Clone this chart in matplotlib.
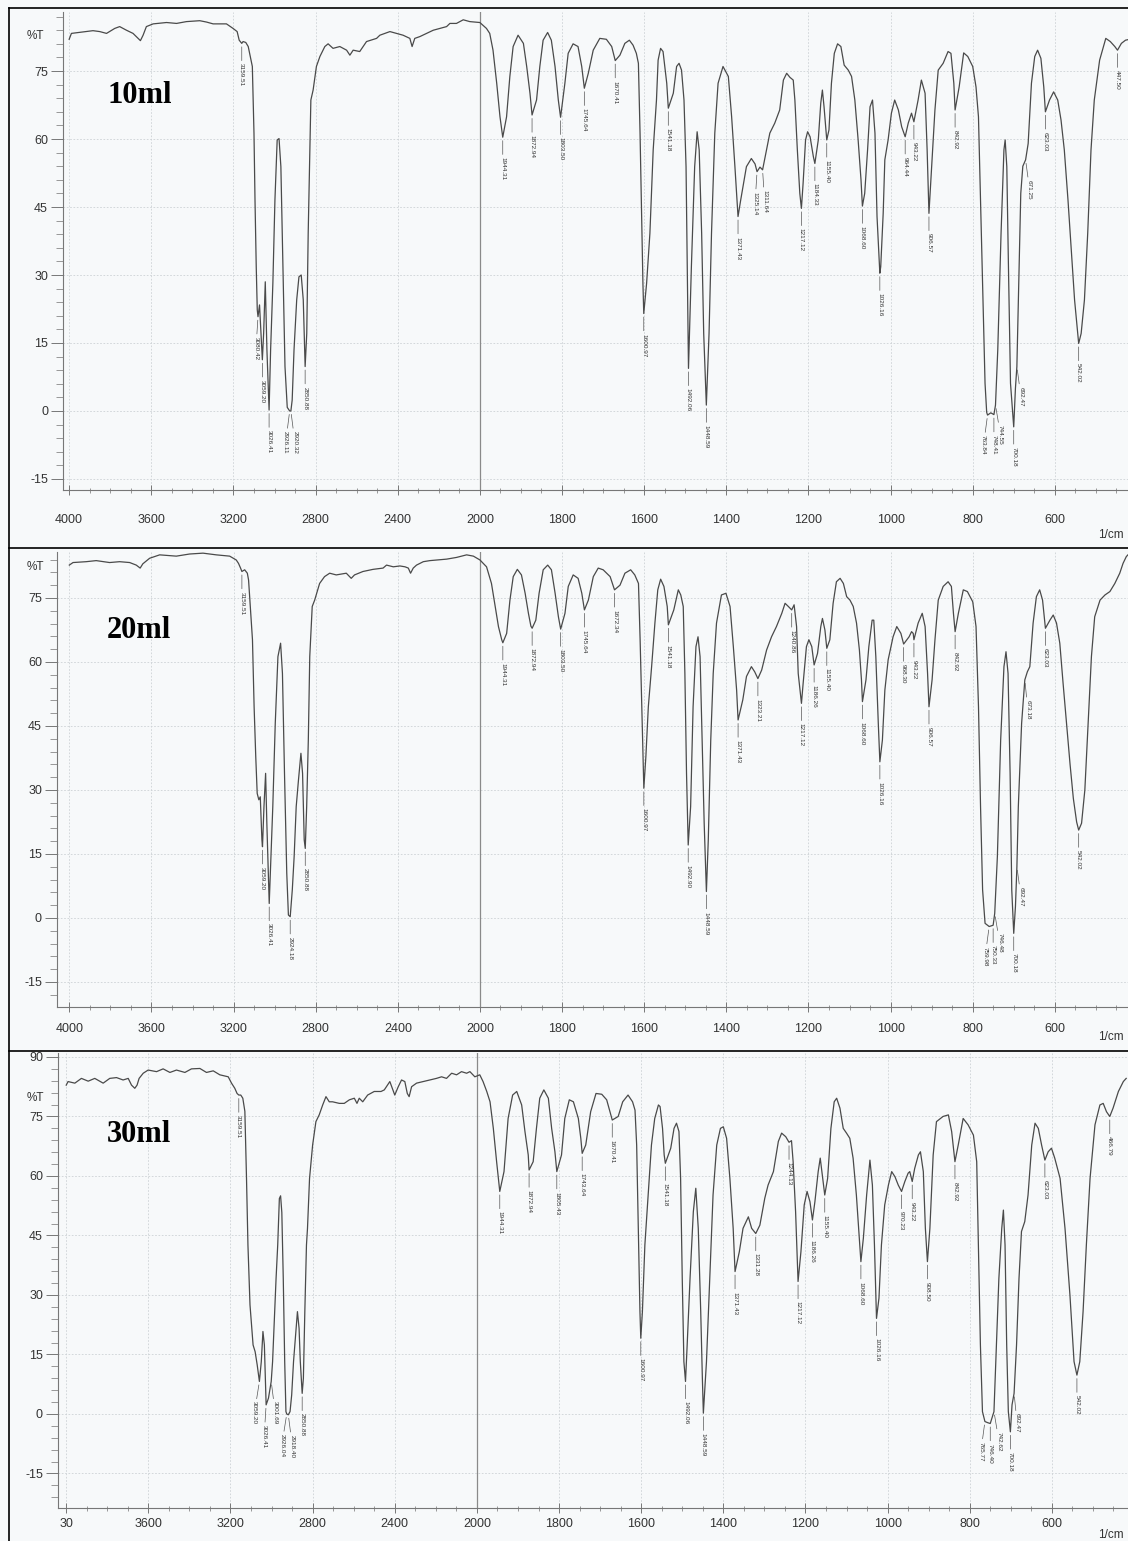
import numpy as np
import matplotlib
matplotlib.use("Agg")
import matplotlib.pyplot as plt
from matplotlib.ticker import FixedLocator, FixedFormatter
from matplotlib.lines import Line2D

# ---------------- data: 10 ml ----------------
wn_10 = [4000, 3989, 3884, 3851, 3818, 3778, 3754, 3721, 3689, 3664, 3653, 3640, 3624, 3591, 3526, 3477,
         3429, 3364, 3331, 3299, 3234, 3202, 3182, 3172, 3159.51, 3153, 3140, 3128, 3108, 3100, 3095, 3089,
         3084, 3080.42, 3073, 3066, 3059.2, 3053, 3045, 3037, 3026.41, 3019, 3008, 2998, 2987, 2978, 2969,
         2959, 2949, 2938, 2926.11, 2920.32, 2914, 2905, 2892, 2881, 2870, 2860, 2850.88, 2843, 2836, 2823,
         2812, 2796, 2779, 2755, 2739, 2715, 2682, 2649, 2633, 2617, 2585, 2552, 2503, 2487, 2438, 2406,
         2374, 2341, 2330, 2317, 2292, 2260, 2227, 2195, 2162, 2146, 2114, 2081, 2049, 2000, 1984, 1976,
         1968, 1959, 1951, 1944.31, 1935, 1927, 1919, 1907, 1894, 1886, 1878, 1872.94, 1862, 1854, 1846,
         1835, 1826, 1817, 1809, 1803.5, 1793, 1785, 1773, 1761, 1752, 1745.64, 1736, 1724, 1708, 1692,
         1679, 1670.41, 1659, 1647, 1636, 1627, 1619, 1614, 1610, 1606, 1603, 1600.97, 1594, 1586, 1578,
         1570, 1566, 1560, 1554, 1545, 1541.18, 1529, 1521, 1515, 1509, 1503, 1498, 1495, 1492.06, 1485,
         1477, 1471, 1466, 1460, 1455, 1448.59, 1442, 1436, 1428, 1420, 1408, 1395, 1387, 1379, 1371.43,
         1365, 1351, 1339, 1330, 1325.14, 1318, 1311.64, 1302, 1294, 1282, 1270, 1261, 1253, 1245, 1237,
         1233, 1227, 1221, 1217.12, 1213, 1207, 1202, 1196, 1188, 1184.33, 1176, 1170, 1166, 1162, 1155.4,
         1150, 1144, 1137, 1129, 1121, 1113, 1103, 1095, 1087, 1079, 1072, 1068.6, 1063, 1056, 1050, 1044,
         1038, 1033, 1026.16, 1024, 1018, 1014, 1006, 998, 990, 981, 973, 964.44, 957, 949, 943.22, 933,
         925, 916, 911, 906.57, 900, 892, 884, 872, 860, 853, 846, 842.92, 833, 822, 812, 800, 792, 786,
         781, 775, 770, 766, 763.84, 756, 748.41, 744.55, 739, 731, 724, 721, 717, 713, 708, 700.18, 696,
         692.47, 688, 683, 678, 671.25, 665, 657, 649, 642, 634, 627, 623.03, 613, 603, 593, 585, 577, 568,
         560, 552, 542.02, 536, 528, 520, 512, 504, 491, 476, 465, 454, 447.5, 438, 428, 418]
T_10 = [82.0, 83.3, 83.9, 83.7, 83.3, 84.4, 84.8, 84.0, 83.3, 82.2, 81.7, 82.9, 84.8, 85.4, 85.7, 85.5,
        85.9, 86.1, 85.8, 85.4, 85.4, 84.4, 83.7, 81.8, 81.1, 81.5, 81.3, 80.4, 76.0, 61.3, 46.5, 31.8,
        22.3, 20.8, 23.4, 17.1, 11.3, 17.1, 28.5, 13.5, 0.2, 13.5, 28.2, 46.5, 59.8, 60.1, 53.9,
        31.8, 9.8, 0.8, 0.0, 0.0, 2.4, 13.5, 24.5, 29.6, 30.0, 24.5, 9.8, 17.1, 39.2, 68.6,
        70.8, 76.0, 78.2, 80.4, 81.0, 80.0, 80.4, 79.6, 78.5, 79.6, 79.3, 81.5, 82.2, 82.9, 83.7, 83.3,
        82.9, 82.2, 80.4, 82.2, 82.6, 83.3, 84.0, 84.4, 84.8, 85.5, 85.5, 86.3, 85.9, 85.7, 84.4, 83.3,
        79.6, 72.3, 64.9, 60.4, 64.9, 73.8, 80.4, 82.9, 81.1, 76.0, 70.1, 65.3, 68.6, 76.0, 81.8,
        83.5, 81.8, 76.0, 68.6, 64.8, 72.3, 78.9, 81.0, 80.4, 76.0, 71.2, 74.5, 79.6, 82.2, 82.0,
        80.4, 77.3, 78.5, 81.1, 81.8, 80.7, 78.9, 76.7, 61.3, 42.9, 28.2, 21.5, 28.2, 39.2, 57.6,
        68.6, 77.4, 80.0, 79.3, 72.3, 66.8, 70.1, 76.0, 76.7, 75.2, 68.6, 53.9, 31.8, 9.4, 31.8,
        53.9, 61.6, 57.6, 39.2, 17.1, 1.3, 17.1, 39.2, 61.3, 72.3, 76.0, 73.8, 64.9, 53.9, 42.9,
        46.5, 53.9, 55.7, 54.5, 52.8, 53.8, 53.2, 57.6, 61.3, 63.5, 66.4, 73.0, 74.5, 73.6, 73.0,
        68.6, 57.6, 48.0, 44.7, 50.2, 59.8, 61.6, 60.5, 56.1, 54.6, 59.8, 67.9, 70.8, 67.1, 59.8,
        62.0, 72.3, 78.9, 81.0, 80.4, 76.3, 75.2, 73.8, 68.6, 59.8, 51.0, 45.2, 48.0, 57.6, 67.1, 68.6,
        61.3, 42.9, 30.4, 31.8, 43.6, 55.4, 59.8, 65.7, 68.6, 66.4, 62.7, 60.5, 63.5, 65.7, 63.8, 68.6,
        73.0, 70.1, 57.6, 43.6, 53.9, 66.4, 75.2, 76.7, 79.3, 78.9, 72.3, 66.4, 71.5, 79.0, 78.2, 76.0, 71.5, 64.9,
        46.5, 24.5, 6.1, -0.3, -0.9, -0.4, -0.8, 1.3, 13.5, 39.2, 57.6, 59.8, 53.9, 31.8, 6.1, -3.5, 5.0,
        9.8, 28.0, 48.0, 54.0, 55.4, 59.0, 72.3, 78.2, 79.6, 77.8, 71.5, 66.0, 68.6, 70.4, 68.6, 64.2, 57.6, 46.5,
        35.5, 24.5, 14.9, 17.1, 24.5, 39.2, 57.6, 68.6, 77.4, 82.2, 81.5, 80.4, 79.6, 81.1, 81.8, 82.0]
lab_10 = ["3159.51", "3080.42", "3059.20", "3026.41", "2926.11", "2920.32", "2850.88", "1944.31",
          "1872.94", "1803.50", "1745.64", "1670.41", "1600.97", "1541.18", "1492.06", "1448.59",
          "1371.43", "1325.14", "1311.64", "1217.12", "1184.33", "1155.40", "1068.60", "1026.16",
          "964.44", "943.22", "906.57", "842.92", "763.84", "748.41", "744.55", "700.18", "692.47",
          "671.25", "623.03", "542.02", "447.50"]
pos_10 = [3159.51, 3080.42, 3059.2, 3026.41, 2926.11, 2920.32, 2850.88, 1944.31, 1872.94, 1803.5,
          1745.64, 1670.41, 1600.97, 1541.18, 1492.06, 1448.59, 1371.43, 1325.14, 1311.64, 1217.12,
          1184.33, 1155.4, 1068.6, 1026.16, 964.44, 943.22, 906.57, 842.92, 763.84, 748.41, 744.55,
          700.18, 692.47, 671.25, 623.03, 542.02, 447.5]

# ---------------- data: 20 ml ----------------
wn_20 = [4000, 3982, 3918, 3869, 3804, 3755, 3706, 3674, 3655, 3642, 3609, 3560, 3479, 3414, 3349, 3284,
         3219, 3187, 3176, 3166, 3159.51, 3146, 3133, 3127, 3108, 3100, 3092, 3085, 3077, 3070, 3062,
         3059.2, 3052, 3044, 3038, 3031, 3026.41, 3018, 3009, 2997, 2984, 2971, 2962, 2952, 2941, 2933,
         2924.18, 2914, 2905, 2895, 2884, 2872, 2864, 2856, 2850.88, 2844, 2836, 2829, 2817, 2805, 2781,
         2757, 2732, 2700, 2651, 2627, 2611, 2570, 2521, 2472, 2455, 2422, 2390, 2365, 2349, 2338, 2325,
         2309, 2276, 2244, 2211, 2162, 2114, 2065, 2032, 2000, 1984, 1972, 1963, 1955, 1947, 1944.31,
         1935, 1927, 1919, 1909, 1899, 1890, 1882, 1876, 1872.94, 1864, 1856, 1846, 1835, 1826, 1817,
         1809, 1803.5, 1793, 1785, 1773, 1761, 1752, 1745.64, 1736, 1724, 1712, 1700, 1683, 1672.34,
         1659, 1647, 1633, 1623, 1614, 1610, 1606, 1602, 1600.97, 1596, 1590, 1582, 1574, 1567, 1560,
         1552, 1544, 1541.18, 1528, 1517, 1511, 1505, 1501, 1497, 1492.9, 1487, 1481, 1474, 1469, 1464,
         1459, 1454, 1448.59, 1444, 1438, 1432, 1424, 1412, 1401, 1391, 1383, 1375, 1371.43, 1360, 1351,
         1339, 1331, 1323.21, 1314, 1302, 1290, 1278, 1265, 1257, 1249, 1240.86, 1235, 1229, 1225,
         1217.12, 1213, 1205, 1199, 1192, 1186.26, 1178, 1170, 1166, 1160, 1155.4, 1148, 1140, 1132, 1123,
         1115, 1107, 1099, 1091, 1083, 1076, 1071, 1068.6, 1060, 1053, 1045, 1041, 1036, 1030, 1026.16,
         1020, 1014, 1006, 994, 985, 975, 968.3, 955, 949, 945, 943.22, 933, 923, 916, 910, 906.57, 899,
         892, 884, 872, 860, 852, 847, 842.92, 835, 823, 813, 800, 792, 786, 781, 776, 770, 759.98,
         750.33, 746.48, 740, 732, 724, 719, 714, 709, 705, 700.18, 696, 692.47, 689, 681, 673.18, 667,
         661, 653, 645, 637, 630, 623.03, 612, 604, 596, 588, 580, 571, 563, 555, 547, 542.02, 535, 527,
         519, 511, 503, 490, 478, 466, 454, 442, 434, 426, 418]
T_20 = [82.7, 83.3, 83.5, 83.75, 83.3, 83.5, 83.3, 82.7, 82.0, 83.0, 84.3, 85.1, 84.8, 85.3, 85.5, 85.1,
        84.8, 83.9, 83.1, 82.0, 81.2, 81.6, 80.8, 79.2, 65.2, 49.5, 37.8, 29.2, 27.7, 28.4, 18.3,
        16.7, 26.1, 33.9, 22.2, 10.5, 3.4, 14.4, 26.1, 45.6, 61.25, 64.4, 57.3, 33.9, 10.5, 0.7,
        0.3, 6.6, 14.4, 26.1, 32.3, 38.6, 33.9, 18.3, 16.3, 26.1, 41.7, 61.25, 73.0, 74.5, 78.4,
        80.0, 80.8, 80.4, 80.8, 79.6, 80.4, 81.2, 81.7, 82.0, 82.7, 82.3, 82.5, 82.3, 82.0, 80.8, 82.0,
        82.7, 83.5, 83.75, 83.9, 84.1, 84.5, 85.1, 84.8, 83.9, 82.3, 78.4, 73.0, 68.3, 65.2, 64.5,
        66.7, 74.5, 80.0, 81.7, 80.4, 76.1, 71.4, 68.4, 67.9, 69.8, 76.1, 81.6, 82.7, 81.6, 76.1,
        70.6, 67.7, 71.4, 77.7, 80.4, 79.6, 76.1, 72.2, 74.5, 80.0, 82.0, 81.6, 80.0, 76.9,
        78.0, 80.8, 81.6, 80.4, 78.4, 65.2, 49.5, 33.9, 30.4, 37.8, 49.5, 58.9, 69.1, 76.9, 79.4,
        77.7, 73.0, 68.7, 72.2, 76.9, 75.7, 73.0, 57.3, 33.9, 17.1, 26.1, 49.5, 63.6, 65.9, 61.25,
        41.7, 22.2, 6.2, 18.3, 41.7, 57.3, 69.1, 75.7, 76.1, 73.0, 63.6, 53.4, 46.4, 51.1, 56.6,
        58.9, 57.7, 56.1, 58.1, 62.8, 65.9, 68.3, 71.4, 73.75, 73.0, 72.2, 73.4, 68.3, 57.3,
        50.3, 55.0, 63.6, 65.2, 63.6, 59.3, 62.0, 68.3, 70.2, 67.5, 63.2, 65.2, 73.75, 78.8, 79.6,
        78.4, 75.3, 74.5, 73.0, 69.1, 62.8, 55.8, 50.7, 55.8, 63.6, 69.8, 69.8, 61.25, 45.6, 36.6,
        41.7, 53.4, 60.5, 65.9, 68.3, 66.7, 64.2, 65.9, 67.1, 66.7, 65.2, 69.1, 71.4, 68.3, 57.3, 49.5, 55.8,
        65.2, 74.5, 77.7, 78.8, 77.7, 71.4, 67.1, 71.4, 76.9, 76.5, 74.1, 68.3, 49.5, 26.1, 6.6, -1.25, -2.0,
        -1.7, 1.1, 14.4, 41.7, 58.9, 62.4, 57.3, 33.9, 6.6, -3.6, 2.7, 12.0, 26.1, 45.6, 55.8, 57.7,
        58.9, 69.1, 75.3, 76.9, 74.5, 67.9, 69.8, 71.0, 69.1, 64.4, 55.0, 45.0, 36.0, 28.0, 22.5, 20.6, 22.2, 30.0,
        45.6, 61.25, 70.6, 74.5, 75.7, 76.5, 78.4, 80.8, 83.1, 84.7, 85.5]
lab_20 = ["3159.51", "3059.20", "3026.41", "2924.18", "2850.88", "1944.31", "1872.94", "1803.50",
          "1745.64", "1672.34", "1600.97", "1541.18", "1492.90", "1448.59", "1371.43", "1323.21",
          "1240.86", "1217.12", "1186.26", "1155.40", "1068.60", "1026.16", "968.30", "943.22",
          "906.57", "842.92", "759.98", "750.33", "746.48", "700.18", "692.47", "673.18", "623.03",
          "542.02"]
pos_20 = [3159.51, 3059.2, 3026.41, 2924.18, 2850.88, 1944.31, 1872.94, 1803.5, 1745.64, 1672.34,
          1600.97, 1541.18, 1492.9, 1448.59, 1371.43, 1323.21, 1240.86, 1217.12, 1186.26, 1155.4,
          1068.6, 1026.16, 968.3, 943.22, 906.57, 842.92, 759.98, 750.33, 746.48, 700.18, 692.47,
          673.18, 623.03, 542.02]

# ---------------- data: 30 ml ----------------
wn_30 = [4000, 3991, 3958, 3926, 3893, 3861, 3820, 3788, 3755, 3723, 3698, 3682, 3666, 3655, 3645, 3625,
         3601, 3560, 3528, 3495, 3463, 3422, 3390, 3349, 3317, 3284, 3252, 3211, 3195, 3179, 3168,
         3159.51, 3150, 3140, 3130, 3122, 3115, 3105, 3090, 3080, 3070, 3059.2, 3050, 3042, 3035, 3030,
         3026.41, 3015, 3001.69, 2995, 2985, 2978, 2970, 2962, 2956, 2950, 2943, 2936, 2930, 2926.04,
         2918.4, 2910, 2902, 2893, 2884, 2874, 2866, 2860, 2850.88, 2845, 2838, 2830, 2825, 2815, 2800,
         2784, 2768, 2751, 2735, 2719, 2703, 2670, 2646, 2621, 2597, 2584, 2573, 2556, 2532, 2500, 2467,
         2451, 2424, 2400, 2383, 2367, 2351, 2339, 2330, 2318, 2294, 2261, 2229, 2197, 2172, 2148, 2123,
         2099, 2075, 2050, 2034, 2010, 1993, 1985, 1976, 1968, 1960, 1952, 1946, 1944.31, 1934, 1924,
         1913, 1903, 1891, 1883, 1875, 1872.94, 1863, 1855, 1847, 1837, 1826, 1818, 1810, 1805.43, 1794,
         1786, 1775, 1765, 1753, 1747, 1743.64, 1735, 1723, 1710, 1696, 1684, 1676, 1670.41, 1656, 1645,
         1632, 1621, 1615, 1611, 1607, 1603, 1600.97, 1597, 1591, 1583, 1575, 1567, 1558, 1554, 1548,
         1544, 1541.18, 1528, 1520, 1514, 1508, 1504, 1500, 1496, 1492.06, 1488, 1481, 1473, 1467, 1461,
         1455, 1451, 1448.59, 1441, 1433, 1425, 1416, 1407, 1400, 1392, 1384, 1376, 1371.43, 1361, 1352,
         1339, 1331, 1321, 1311, 1299, 1291, 1278, 1266, 1258, 1248, 1240, 1234, 1230, 1224, 1218, 1211,
         1203, 1196, 1189, 1183, 1177, 1169, 1164, 1159, 1153, 1146, 1138, 1130, 1124, 1116, 1108, 1100,
         1092, 1084, 1076, 1070, 1065, 1059, 1051, 1043, 1037, 1032, 1027, 1021, 1015, 1007, 998, 990,
         982, 974, 966, 958, 950, 946, 940, 934, 925, 920, 913, 908, 903, 897, 889, 881, 865, 852, 844,
         836, 828, 816, 804, 791, 783, 779, 774, 769, 763, 756, 750, 741, 735, 729, 722, 718, 714, 710,
         706, 701, 697, 692, 686, 680, 674, 666, 658, 649, 641, 633, 625, 617, 609, 601, 593, 580, 568,
         556, 546, 539, 532, 524, 516, 507, 495, 483, 475, 467, 459, 451, 438, 426, 419]
T_30 = [82.9, 83.8, 83.4, 84.6, 83.9, 84.6, 83.4, 84.6, 84.8, 84.2, 84.6, 82.9, 82.1, 82.9, 84.6, 85.9,
        86.7, 86.3, 87.0, 86.1, 86.7, 86.1, 87.0, 87.1, 86.1, 86.5, 85.5, 85.0, 83.4, 82.1, 80.8,
        80.4, 80.4, 79.6, 76.3, 59.4, 42.6, 27.5, 17.4, 15.7, 12.4, 8.2, 13.2, 20.8, 17.4, 9.0,
        2.3, 4.0, 8.2, 13.2, 25.8, 34.2, 42.6, 54.3, 55.0, 50.8, 34.2, 13.2, 0.6, 0.0,
        -0.2, 0.6, 4.8, 13.2, 19.1, 25.8, 21.6, 13.2, 5.2, 9.0, 25.8, 42.6, 46.8, 59.4, 67.8,
        73.7, 75.4, 77.9, 80.0, 78.7, 78.7, 78.3, 78.3, 79.2, 79.6, 78.3, 79.6, 78.7, 80.4, 81.3, 81.3,
        81.7, 83.8, 80.4, 82.5, 84.2, 83.8, 80.8, 80.0, 82.5, 83.4, 83.8, 84.2, 84.6, 85.0, 84.6, 85.9,
        85.5, 86.3, 85.9, 86.3, 85.0, 85.5, 83.8, 81.3, 78.7, 72.0, 63.6, 57.7, 56.1, 61.1, 74.5,
        80.4, 81.3, 77.9, 71.2, 65.3, 61.5, 63.6, 72.0, 79.6, 81.7, 79.6, 72.0, 66.1, 61.1, 65.3,
        74.5, 79.2, 78.7, 74.5, 69.5, 65.7, 67.8, 76.2, 80.8, 80.6, 79.2, 76.2, 74.1, 75.0, 78.7,
        80.4, 78.7, 76.6, 67.8, 46.8, 25.8, 19.1, 25.8, 42.6, 55.2, 67.8, 74.5, 77.9, 77.5, 72.0,
        65.3, 63.2, 67.0, 72.0, 73.3, 71.2, 59.4, 34.2, 13.2, 8.2, 17.4, 34.2, 51.0, 56.9, 46.8,
        25.8, 9.0, 0.2, 13.2, 34.2, 55.2, 67.8, 72.0, 72.4, 69.5, 59.4, 46.8, 35.9, 40.9, 46.8,
        49.7, 46.8, 45.5, 47.6, 54.4, 57.7, 61.1, 68.7, 70.8, 69.9, 68.5, 68.9, 63.6, 51.0, 33.4, 40.9,
        52.7, 56.1, 53.5, 48.9, 53.5, 61.1, 64.5, 60.3, 55.2, 59.4, 72.0, 78.7, 79.6, 77.1, 72.0, 70.8,
        69.5, 64.5, 55.2, 46.0, 38.4, 44.3, 55.2, 64.0, 57.7, 42.6, 24.1, 29.2, 42.6, 52.7, 57.7, 61.1,
        59.8, 57.7, 56.1, 58.6, 60.7, 61.1, 58.6, 61.9, 65.3, 66.1, 61.1, 46.8, 38.4, 46.8, 65.3, 73.7, 75.0, 75.4, 71.2,
        63.6, 67.8, 74.5, 72.9, 70.3, 63.6, 42.6, 17.4, 0.6, -1.9, -2.2, -2.4, 0.6, 17.4, 34.2, 46.8, 51.4, 42.6, 17.4,
        0.6, -4.5, 2.3, 5.2, 17.4, 34.2, 46.0, 48.5, 55.2, 67.8, 73.3, 72.0, 67.8, 64.0, 66.1, 67.0, 64.5, 59.4, 46.8,
        30.0, 13.2, 9.8, 13.2, 25.8, 42.6, 59.4, 72.9, 77.9, 78.3, 76.2, 75.0, 77.1, 81.3, 83.8, 84.6]
lab_30 = ["3159.51", "3059.20", "3026.41", "3001.69", "2926.04", "2918.40", "2850.88", "1944.31",
          "1872.94", "1805.43", "1743.64", "1670.41", "1600.97", "1541.18", "1492.06", "1448.59",
          "1371.43", "1331.28", "1244.13", "1217.12", "1186.26", "1155.40", "1068.60", "1026.16",
          "970.23", "943.22", "908.50", "842.92", "765.77", "746.40", "742.62", "700.18", "692.47",
          "623.03", "542.02", "466.79"]
pos_30 = [3159.51, 3059.2, 3026.41, 3001.69, 2926.04, 2918.4, 2850.88, 1944.31, 1872.94, 1805.43,
          1743.64, 1670.41, 1600.97, 1541.18, 1492.06, 1448.59, 1371.43, 1321, 1240, 1218, 1183, 1153,
          1065, 1027, 966, 940, 903, 836, 763, 750, 741, 701, 692, 617, 539, 459]

sample_names = ["10ml", "20ml", "30ml"]
x_major = [4000, 3600, 3200, 2800, 2400, 2000, 1800, 1600, 1400, 1200, 1000, 800, 600]
y_major = [-15, 0, 15, 30, 45, 60, 75, 90]

# ---------------- layout (pixels) ----------------
W, H = 1128, 1541
BG = "#f7f9fa"
LINE = "#4a4a4a"
TXT = "#333333"

fig = plt.figure(figsize=(W / 100, H / 100), dpi=100, facecolor=BG)


def fwd(x):
    x = np.asarray(x, dtype=float)
    return np.where(x > 2000, 2000 + (x - 2000) / 2.0, x)


def inv(u):
    u = np.asarray(u, dtype=float)
    return np.where(u > 2000, 2000 + (u - 2000) * 2.0, u)


minor_left = [v for v in range(3900, 2000, -100) if v not in x_major]
minor_right = [v for v in range(1950, 399, -50) if v not in x_major]

panels = [
    dict(wn=wn_10, T=T_10, lab=lab_10, pos=pos_10, px=(63, 1137), py=(12, 490),
         xlim=(4030, 400), ylim=(-17.43, 88.02), xpad=14, name_y=103, pct_y=36, cm_y=535,
         xlabels=None,
         dx={"3080.42": -2, "2926.11": -4, "2920.32": 4, "763.84": -4, "748.41": 0,
             "744.55": 5, "692.47": 4, "671.25": 4, "1325.14": -2, "1311.64": 2}),
    dict(wn=wn_20, T=T_20, lab=lab_20, pos=pos_20, px=(57, 1137), py=(552, 1007),
         xlim=(4060, 400), ylim=(-20.86, 85.77), xpad=8, name_y=638, pct_y=567, cm_y=1037,
         xlabels=None,
         dx={"759.98": -4, "750.33": 0, "746.48": 5, "692.47": 4, "673.18": 3}),
    dict(wn=wn_30, T=T_30, lab=lab_30, pos=pos_30, px=(58, 1134), py=(1053, 1508),
         xlim=(4040, 400), ylim=(-23.70, 91.00), xpad=4, name_y=1142, pct_y=1098, cm_y=1535,
         xlabels=["30"],
         dx={"3059.20": -5, "3026.41": -2, "3001.69": 4, "2926.04": -5, "2918.40": 4,
             "765.77": -4, "746.40": 0, "742.62": 5, "692.47": 3}),
]

for i, p in enumerate(panels):
    x0, x1 = p["px"]
    y0, y1 = p["py"]
    ax = fig.add_axes([x0 / W, 1 - y1 / H, (x1 - x0) / W, (y1 - y0) / H])
    ax.set_facecolor("none")
    ax.set_xscale("function", functions=(fwd, inv))
    ax.set_xlim(*p["xlim"])
    ax.set_ylim(*p["ylim"])

    wn = np.array(p["wn"], dtype=float)
    T = np.array(p["T"], dtype=float)
    ax.plot(wn, T, color=LINE, lw=0.9, solid_joinstyle="round", zorder=3)

    # grid and axis-break line
    ax.grid(True, which="major", color="#cdd2d6", lw=0.6, ls=(0, (2, 2)), zorder=0)
    ax.axvline(2000, color="#8a8a8a", lw=0.9, zorder=2)

    # ticks
    xl = [str(v) for v in x_major]
    if p["xlabels"]:
        xl[0] = p["xlabels"][0]
    ax.xaxis.set_major_locator(FixedLocator(x_major))
    ax.xaxis.set_major_formatter(FixedFormatter(xl))
    ax.xaxis.set_minor_locator(FixedLocator(minor_left + minor_right))
    yt = [v for v in y_major if p["ylim"][0] <= v <= p["ylim"][1]]
    ax.yaxis.set_major_locator(FixedLocator(yt))
    ax.yaxis.set_major_formatter(FixedFormatter([str(v) for v in yt]))
    ax.yaxis.set_minor_locator(FixedLocator([v for v in range(-21, 91, 3)
                                             if p["ylim"][0] <= v <= p["ylim"][1]]))
    ax.tick_params(axis="x", which="major", direction="inout", length=6.5, width=0.7,
                   color="#777777", labelsize=9, labelcolor=TXT, pad=p["xpad"])
    ax.tick_params(axis="x", which="minor", direction="inout", length=3.6, width=0.6,
                   color="#888888")
    ax.tick_params(axis="y", which="major", direction="out", length=8.6, width=0.7,
                   color="#777777", labelsize=9, labelcolor=TXT, pad=2.2)
    ax.tick_params(axis="y", which="minor", direction="out", length=5, width=0.6,
                   color="#888888")
    for s in ("top", "right"):
        ax.spines[s].set_visible(False)
    for s in ("left", "bottom"):
        ax.spines[s].set_color("#777777")
        ax.spines[s].set_linewidth(0.8)
    for lbl in ax.get_xticklabels() + ax.get_yticklabels():
        lbl.set_fontfamily("Liberation Sans")

    # peak labels
    for txt, pw in zip(p["lab"], p["pos"]):
        tp = float(np.interp(pw, wn[::-1], T[::-1]))
        dx = p["dx"].get(txt, 0)
        ax.annotate(txt, xy=(pw, tp), xytext=(dx, -20), textcoords="offset pixels",
                    rotation=270, ha="center", va="top", fontsize=4.6, color=TXT,
                    family="Liberation Sans",
                    arrowprops=dict(arrowstyle="-", lw=0.5, color="#555555",
                                    shrinkA=0, shrinkB=2.5), zorder=4)

    # texts
    fig.text(107 / W, 1 - p["name_y"] / H, sample_names[i], fontsize=22, fontweight="bold",
             family="Liberation Serif", ha="left", va="baseline", color="black")
    fig.text(27 / W, 1 - p["pct_y"] / H, "%T", fontsize=8.5, family="Liberation Sans",
             ha="left", va="center", color=TXT)
    fig.text(1124 / W, 1 - p["cm_y"] / H, "1/cm", fontsize=8.5, family="Liberation Sans",
             ha="right", va="center", color=TXT)

# panel frames
def fline(xs, ys):
    fig.add_artist(Line2D([x / W for x in xs], [1 - y / H for y in ys],
                          transform=fig.transFigure, color="black", lw=1.2))

fline([8.5, 8.5], [7.5, 1541])
fline([8.5, 1128], [7.5, 7.5])
fline([8.5, 1128], [548, 548])
fline([8.5, 1128], [1050.5, 1050.5])

fig.savefig("out.png", dpi=100, facecolor=BG)
